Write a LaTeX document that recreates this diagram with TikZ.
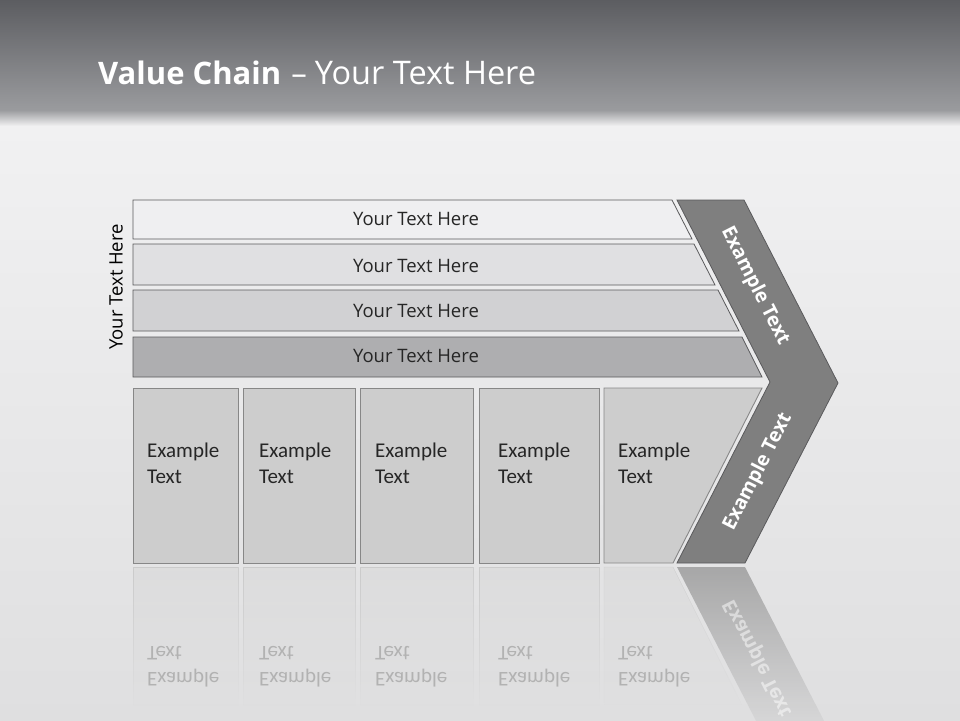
\documentclass[tikz,border=0pt]{standalone}
\usepackage{fontspec}
\setmainfont{Open Sans}
\newfontfamily\calfont{Carlito}
\usepackage{xcolor}
\usepackage{tikz}
\usetikzlibrary{fadings}
\definecolor{vchead}{HTML}{5C5D61}
\definecolor{vcheadlow}{HTML}{9A9B9E}
\definecolor{vcback}{HTML}{F1F1F2}
\definecolor{vcbacklow}{HTML}{DFDFE0}
\definecolor{vcedge}{HTML}{5A5A5C}
\definecolor{vcbarA}{HTML}{EFEFF1}
\definecolor{vcbarB}{HTML}{E0E0E2}
\definecolor{vcbarC}{HTML}{D1D1D3}
\definecolor{vcbarD}{HTML}{AEAEB0}
\definecolor{vcbox}{HTML}{CDCDCD}
\definecolor{vcboxedge}{HTML}{878787}
\definecolor{vcchev}{HTML}{7F7F7F}
\definecolor{vctext}{HTML}{262626}
\tikzfading[name=reflectfade, top color=transparent!40, bottom color=transparent!100]

\begin{document}
\begin{tikzpicture}[
    x=1pt, y=-1pt,
    bar/.style={draw=vcedge, line width=0.8pt},
    bartext/.style={font=\fontsize{18.5}{22}\selectfont, text=vctext, inner sep=0pt},
    comp/.style={draw=vcboxedge, fill=vcbox, line width=0.9pt},
    comptext/.style={font=\calfont\fontsize{21}{26}\selectfont, text=vctext, anchor=north west, align=left, inner sep=0pt},
    chev/.style={draw=vcedge, fill=vcchev, line width=0.8pt},
    chevtext/.style={font=\bfseries\fontsize{19.5}{23}\selectfont, text=white, inner sep=0pt},
    mirror/.style={path fading=reflectfade},
    mirrortext/.style={comptext, text=black!30, yscale=-1}
]
    \useasboundingbox (0,0) rectangle (960,720);

    % Background and header band
    \fill[top color=vcback, bottom color=vcbacklow] (0,124) rectangle (960,720);
    \fill[top color=vchead, bottom color=vcheadlow] (0,0) rectangle (960,110);
    \fill[top color=vcheadlow, bottom color=vcback] (0,110) rectangle (960,126);
    \node (title) [anchor=base west, text=white, inner sep=0pt, font=\fontsize{31}{37}\selectfont] at (98,84) {\textbf{Value Chain}\hspace{2pt} – {\fontsize{32.5}{37}\selectfont Your Text Here}};

    % Support bars
    \draw[bar, fill=vcbarA] (133,200) -- (672,200) -- (692,239) -- (133,239) -- cycle;
    \draw[bar, fill=vcbarB] (133,244) -- (694,244) -- (715,285) -- (133,285) -- cycle;
    \draw[bar, fill=vcbarC] (133,290) -- (718,290) -- (739,331) -- (133,331) -- cycle;
    \draw[bar, fill=vcbarD] (133,337) -- (742,337) -- (762,377) -- (133,377) -- cycle;
    \node (b1) [bartext] at (416,219) {Your Text Here};
    \node (b2) [bartext] at (416,266) {Your Text Here};
    \node (b3) [bartext] at (416,311) {Your Text Here};
    \node (b4) [bartext] at (416,356) {Your Text Here};
    \node (side) [bartext, text=black, rotate=90] at (116,287) {Your Text Here};

    % Primary boxes
    \draw[comp] (133,388) rectangle (238,563);
    \draw[comp] (243,388) rectangle (355,563);
    \draw[comp] (360,388) rectangle (473,563);
    \draw[comp] (479,388) rectangle (599,563);
    \draw[comp] (604,388) -- (762,388) -- (673,563) -- (604,563) -- cycle;
    \node (p1) [comptext] at (147,443) {Example\\Text};
    \node (p2) [comptext] at (259,443) {Example\\Text};
    \node (p3) [comptext] at (375,443) {Example\\Text};
    \node (p4) [comptext] at (498,443) {Example\\Text};
    \node (p5) [comptext] at (618,443) {Example\\Text};

    % Chevron
    \draw[chev] (677,200) -- (744,200) -- (838,383) -- (745,563) -- (677,563) -- (770,382) -- cycle;
    \node (m1) [chevtext, rotate=-63] at (755,286) {Example Text};
    \node (m2) [chevtext, rotate=63] at (758,472) {Example Text};

    % Reflection
    \foreach \xa/\xb in {133/238, 243/355, 360/473, 479/599} {
        \draw[mirror, draw=black!25, fill=vcbox, fill opacity=0.5] (\xa,567) rectangle (\xb,705);
    }
    \draw[mirror, draw=black!25, fill=vcbox, fill opacity=0.5] (604,567) -- (673,567) -- (742,705) -- (604,705) -- cycle;
    \fill[mirror, fill=vcchev] (677,567) -- (745,567) -- (838,748) -- (770,748) -- cycle;
    \node (r1) [mirrortext] at (147,687) {Example\\Text};
    \node (r2) [mirrortext] at (259,687) {Example\\Text};
    \node (r3) [mirrortext] at (375,687) {Example\\Text};
    \node (r4) [mirrortext] at (498,687) {Example\\Text};
    \node (r5) [mirrortext] at (618,687) {Example\\Text};
    \node (rm) [chevtext, opacity=0.5, rotate=-63, yscale=-1] at (758,658) {Example Text};
\end{tikzpicture}
\end{document}
